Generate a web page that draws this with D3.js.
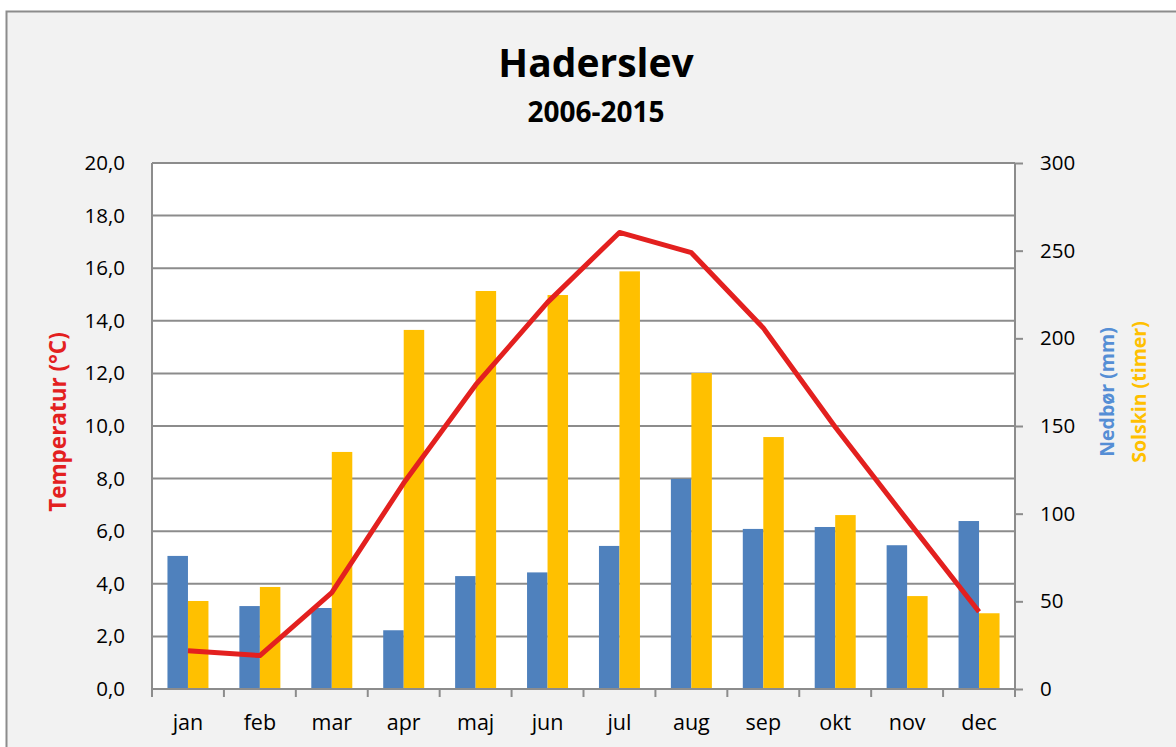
<!DOCTYPE html>
<html>
<head>
<meta charset="utf-8">
<script src="https://cdn.jsdelivr.net/npm/d3@7"></script>
<style>
  body { margin: 0; background: #ffffff; }
  svg { display: block; font-family: "Open Sans", "Noto Sans", sans-serif; }
</style>
</head>
<body>
<script>
(function(){

//data
var months = ["jan", "feb", "mar", "apr", "maj", "jun", "jul", "aug", "sep", "okt", "nov", "dec"];
var temperatur = [1.45, 1.27, 3.66, 7.83, 11.56, 14.7, 17.36, 16.59, 13.73, 9.96, 6.43, 2.94];
var nedbor = [75.9, 47.3, 46.2, 33.5, 64.4, 66.5, 81.6, 119.8, 91.3, 92.4, 82.0, 95.8];
var solskin = [50.2, 58.2, 135.2, 204.8, 227.0, 224.7, 238.2, 180.2, 143.7, 99.2, 53.0, 43.2];
var leftTicks = [0, 2, 4, 6, 8, 10, 12, 14, 16, 18, 20];
var rightTicks = [0, 50, 100, 150, 200, 250, 300];

var width = 1176, height = 747;
var left = 152, right = 1015, top = 163, bottom = 689;

var svg = d3.select("body").append("svg")
    .attr("width", width)
    .attr("height", height);

//chart frame
svg.append("rect")
    .attr("x", 6.5).attr("y", 11.5)
    .attr("width", width).attr("height", height)
    .attr("fill", "#f2f2f2")
    .attr("stroke", "#8c8c8c")
    .attr("stroke-width", 2);

//plot area
svg.append("rect")
    .attr("x", left).attr("y", top)
    .attr("width", right - left).attr("height", bottom - top)
    .attr("fill", "#ffffff");

var x = d3.scaleBand()
    .domain(months)
    .range([left, right]);

var yLeft = d3.scaleLinear().domain([0, 20]).range([bottom, top]);
var yRight = d3.scaleLinear().domain([0, 300]).range([bottom, top]);

//gridlines
svg.selectAll(".grid")
    .data(leftTicks.slice(1))
    .enter()
    .append("line")
    .attr("class", "grid")
    .attr("x1", left).attr("x2", right)
    .attr("y1", function(d){ return yLeft(d); })
    .attr("y2", function(d){ return yLeft(d); })
    .attr("stroke", "#8c8c8c")
    .attr("stroke-width", 2);

//bars
var barW = x.bandwidth() * 0.285;
svg.selectAll(".nedbor")
    .data(nedbor)
    .enter()
    .append("rect")
    .attr("class", "nedbor")
    .attr("x", function(d, i){ return x(months[i]) + x.bandwidth() / 2 - barW; })
    .attr("y", function(d){ return yRight(d); })
    .attr("width", barW)
    .attr("height", function(d){ return bottom - yRight(d); })
    .attr("fill", "#4f81bd");

svg.selectAll(".solskin")
    .data(solskin)
    .enter()
    .append("rect")
    .attr("class", "solskin")
    .attr("x", function(d, i){ return x(months[i]) + x.bandwidth() / 2; })
    .attr("y", function(d){ return yRight(d); })
    .attr("width", barW)
    .attr("height", function(d){ return bottom - yRight(d); })
    .attr("fill", "#ffc000");

//left axis
var leftAxis = d3.axisLeft(yLeft)
    .tickValues(leftTicks)
    .tickSize(0)
    .tickPadding(27)
    .tickFormat(function(d){ return d3.format(".1f")(d).replace(".", ","); });
var gl = svg.append("g")
    .attr("transform", "translate(" + left + ",0)")
    .attr("font-family", null)
    .call(leftAxis);
gl.attr("font-family", null).attr("font-size", null);
gl.select(".domain").remove();
gl.selectAll("text").attr("font-size", 20.5).attr("fill", "#000");
svg.append("line")
    .attr("x1", left).attr("x2", left)
    .attr("y1", top).attr("y2", bottom + 8)
    .attr("stroke", "#8c8c8c").attr("stroke-width", 2);

//right axis
var rightAxis = d3.axisRight(yRight)
    .tickValues(rightTicks)
    .tickSize(8)
    .tickPadding(17);
var gr = svg.append("g")
    .attr("transform", "translate(" + right + ",0)")
    .call(rightAxis);
gr.attr("font-family", null).attr("font-size", null);
gr.select(".domain").remove();
gr.selectAll("line").attr("stroke", "#8c8c8c").attr("stroke-width", 2);
gr.selectAll("text").attr("font-size", 20.5).attr("fill", "#000");
svg.append("line")
    .attr("x1", right).attr("x2", right)
    .attr("y1", top).attr("y2", bottom + 8)
    .attr("stroke", "#8c8c8c").attr("stroke-width", 2);

//bottom axis
var bottomAxis = d3.axisBottom(x).tickSize(0).tickPadding(26);
var gb = svg.append("g")
    .attr("transform", "translate(0," + bottom + ")")
    .call(bottomAxis);
gb.attr("font-family", null).attr("font-size", null);
gb.select(".domain").remove();
gb.selectAll("text").attr("font-size", 21.5).attr("fill", "#000");
svg.append("line")
    .attr("x1", left).attr("x2", right)
    .attr("y1", bottom).attr("y2", bottom)
    .attr("stroke", "#8c8c8c").attr("stroke-width", 2);
svg.selectAll(".xtick")
    .data(months.slice(1))
    .enter()
    .append("line")
    .attr("class", "xtick")
    .attr("x1", function(d){ return x(d); })
    .attr("x2", function(d){ return x(d); })
    .attr("y1", bottom).attr("y2", bottom + 8)
    .attr("stroke", "#8c8c8c").attr("stroke-width", 2);

//temperature line
var line = d3.line()
    .x(function(d, i){ return x(months[i]) + x.bandwidth() / 2; })
    .y(function(d){ return yLeft(d); });
svg.append("path")
    .datum(temperatur)
    .attr("d", line)
    .attr("fill", "none")
    .attr("stroke", "#e3201f")
    .attr("stroke-width", 5)
    .attr("stroke-linejoin", "round");

//titles
svg.append("text")
    .attr("x", 596).attr("y", 77)
    .attr("text-anchor", "middle")
    .attr("font-size", 39).attr("font-weight", "bold")
    .text("Haderslev");
svg.append("text")
    .attr("x", 596).attr("y", 122)
    .attr("text-anchor", "middle")
    .attr("font-size", 28).attr("font-weight", "bold")
    .text("2006-2015");

svg.append("text")
    .attr("transform", "translate(66,422) rotate(-90)")
    .attr("text-anchor", "middle")
    .attr("font-size", 22.5).attr("font-weight", "bold")
    .attr("fill", "#e3201f")
    .text("Temperatur (°C)");
svg.append("text")
    .attr("transform", "translate(1114,392) rotate(-90)")
    .attr("text-anchor", "middle")
    .attr("font-size", 19.5).attr("font-weight", "bold")
    .attr("fill", "#558ed5")
    .text("Nedbør (mm)");
svg.append("text")
    .attr("transform", "translate(1146,392) rotate(-90)")
    .attr("text-anchor", "middle")
    .attr("font-size", 19.5).attr("font-weight", "bold")
    .attr("fill", "#ffc000")
    .text("Solskin (timer)");

})();
</script>
</body>
</html>
